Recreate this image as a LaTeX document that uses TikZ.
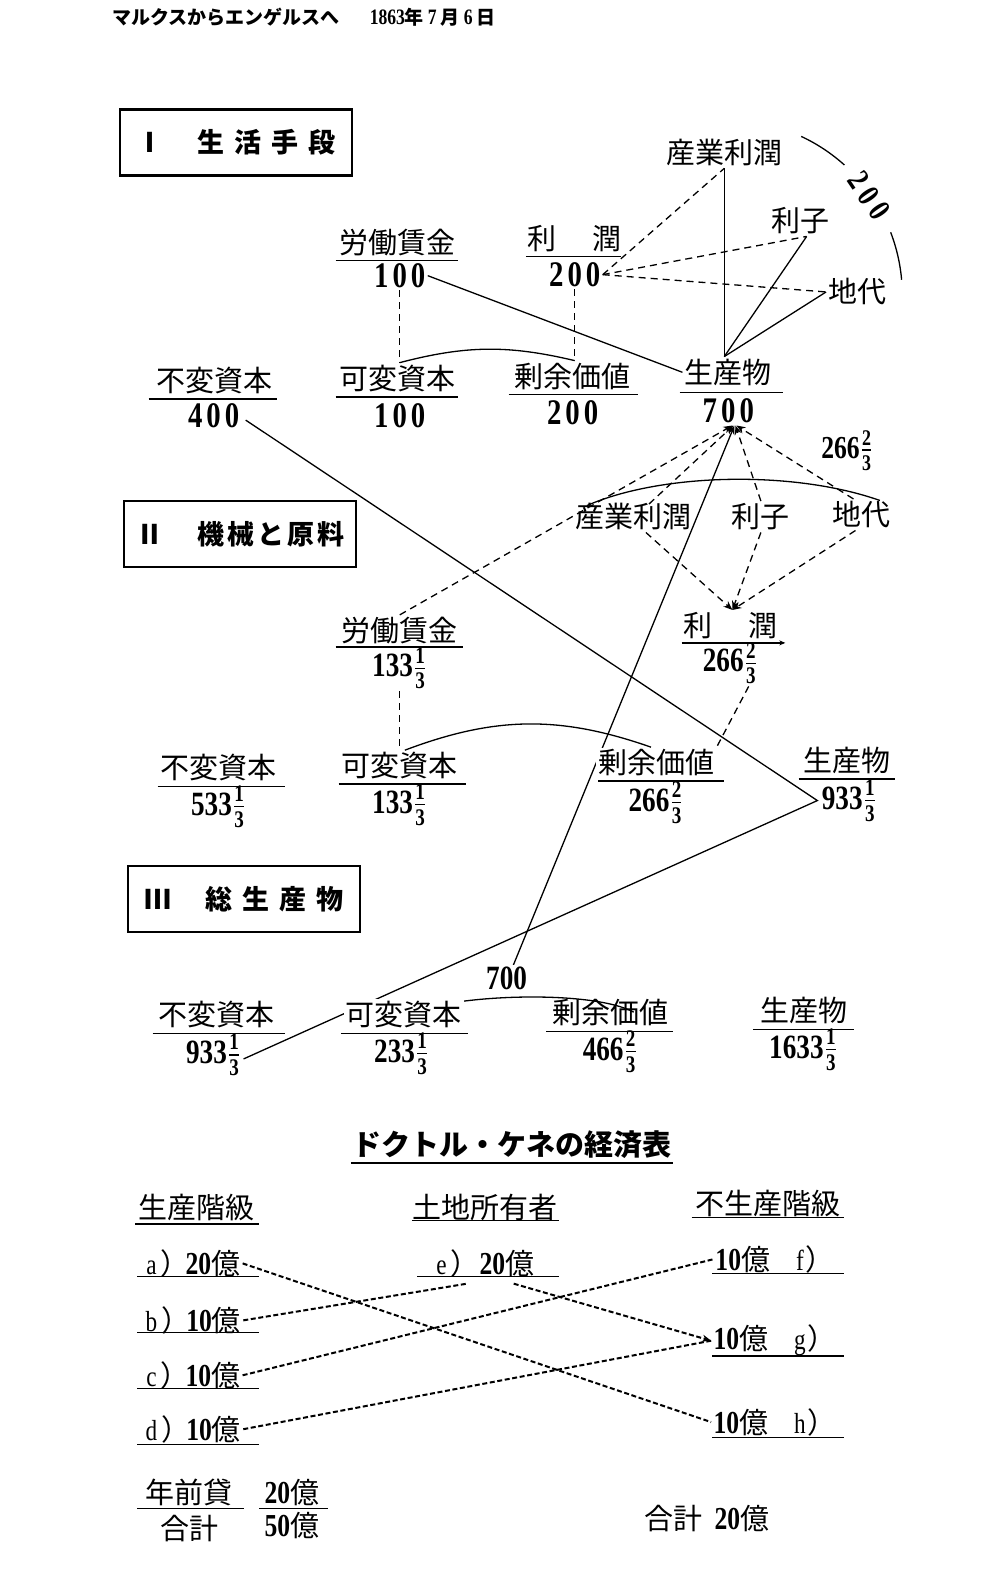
\documentclass[tikz,border=0pt]{standalone}
\usepackage{fontspec}
\usepackage{amsmath}
\setmainfont{Liberation Serif}
\newfontfamily\cjk{Noto Sans CJK JP}
\newfontfamily\nf[FakeStretch=0.8]{Liberation Serif}
\usetikzlibrary{arrows.meta,calc,backgrounds}
\newcommand\fr[2]{\ensuremath{\frac{\text{#1}}{\text{#2}}}}
\newcommand\dg[1]{{\nf\bfseries\fontsize{16}{16}\selectfont #1}}
\tikzset{
  lab/.style={font=\cjk\fontsize{14.5}{16}\selectfont, inner sep=1pt},
  numa/.style={font=\nf\bfseries\fontsize{18}{18}\selectfont, inner sep=1pt},
  numb/.style={font=\nf\bfseries\fontsize{17}{17}\selectfont, inner sep=1pt},
  ul/.style={line width=0.8pt},
  sol/.style={line width=0.65pt},
  dsh/.style={line width=0.65pt, dash pattern=on 3.5pt off 2.5pt},
  dq/.style={line width=1pt, dash pattern=on 2.5pt off 1.3pt},
  arr/.style={-{Stealth[length=4.5pt,width=3.5pt]}},
  secbox/.style={draw, line width=1.1pt, minimum width=116pt, minimum height=33pt, font=\cjk\bfseries\fontsize{13.5}{14}\selectfont},
  wf/.style={fill=white},
}
\begin{document}
\begin{tikzpicture}[x={(0.5085pt,0)}, y={(0,-0.5085pt)}]
\useasboundingbox (0,0) rectangle (983,1568);

% header
\node[anchor=west, inner sep=0, font=\cjk\bfseries\fontsize{9.5}{10}\selectfont] (hdr) at (110,17) {マルクスからエンゲルスへ\hspace{15pt}{\nf\fontsize{11}{11}\selectfont 1863}年\hspace{2pt}{\nf\fontsize{11}{11}\selectfont 7}\hspace{2pt}月\hspace{2pt}{\nf\fontsize{11}{11}\selectfont 6}\hspace{2pt}日};

% ---------- Section I ----------
\node[secbox] (bI) at (232,140) {Ⅰ\hspace{17pt}生\hspace{5pt}活\hspace{5pt}手\hspace{5pt}段};
\node[lab] (sgyI) at (712,150) {産業利潤};
\node[lab] (rsI) at (787,217) {利子};
\node[lab] (cdI) at (843,287) {地代};
\node[font=\nf\bfseries\fontsize{16}{16}\selectfont, rotate=-56, inner sep=0pt] (a200) at ($(715,290)+(-35:170)$) {2\kern3pt 0\kern3pt 0};
\node[lab] (rjI) at (565,235) {利\hspace{18pt}潤};
\node[numa] (rjIn) at (565,270) {2\kern2pt0\kern2pt0};
\node[lab] (rcI) at (391,238) {労働賃金};
\node[numa] (rcIn) at (393,271) {1\kern2pt0\kern2pt0};
\node[lab] (fhI) at (211,374) {不変資本};
\node[numa] (fhIn) at (210,409) {4\kern2pt0\kern2pt0};
\node[lab] (khI) at (391,372) {可変資本};
\node[numa] (khIn) at (393,409) {1\kern2pt0\kern2pt0};
\node[lab] (jyI) at (563,370) {剰余価値};
\node[numa] (jyIn) at (563,406) {2\kern2pt0\kern2pt0};
\node[lab] (ssI) at (716,366) {生産物};
\node[numa] (ssIn) at (716,404) {7\kern2pt0\kern2pt0};

% ---------- Section II ----------
\node[secbox] (bII) at (236,525) {Ⅱ\hspace{17pt}機\kern1.5pt 械\kern1.5pt と\kern1.5pt 原\kern1.5pt 料};
\node[font=\nf\bfseries\fontsize{16}{16}\selectfont, inner sep=1pt] (n266) at (833,443) {266\fr{2}{3}};
\node[lab] (sgyII) at (623,508) {産業利潤};
\node[lab] (rsII) at (748,508) {利子};
\node[lab] (cdII) at (847,506) {地代};
\node[lab] (rcII) at (393,620) {労働賃金};
\node[numb] (rcIIn) at (393,657) {133\fr{1}{3}};
\node[lab] (rjII) at (718,615) {利\hspace{18pt}潤};
\node[numb] (rjIIn) at (718,652) {266\fr{2}{3}};
\node[lab] (fhII) at (215,755) {不変資本};
\node[numb] (fhIIn) at (215,793) {533\fr{1}{3}};
\node[lab] (khII) at (393,753) {可変資本};
\node[numb] (khIIn) at (393,791) {133\fr{1}{3}};
\node[lab, wf] (jyII) at (645,750) {剰余価値};
\node[numb] (jyIIn) at (645,789) {266\fr{2}{3}};
\node[lab] (ssII) at (833,748) {生産物};
\node[numb] (ssIIn) at (835,787) {933\fr{1}{3}};

% ---------- Section III ----------
\node[secbox] (bIII) at (240,884) {Ⅲ\hspace{17pt}総\hspace{5pt}生\hspace{5pt}産\hspace{5pt}物};
\node[lab] (fhIII) at (213,997) {不変資本};
\node[numb] (fhIIIn) at (210,1037) {933\fr{1}{3}};
\node[lab, wf] (khIII) at (397,997) {可変資本};
\node[numb] (khIIIn) at (395,1036) {233\fr{1}{3}};
\node[lab] (jyIII) at (600,995) {剰余価値};
\node[numb] (jyIIIn) at (600,1034) {466\fr{2}{3}};
\node[lab] (ssIII) at (790,993) {生産物};
\node[numb] (ssIIIn) at (790,1032) {1633\fr{1}{3}};
\node[numb, wf] (t700) at (498,962) {700};

% ---------- Tableau ----------
\node[font=\cjk\bfseries\fontsize{14.5}{16}\selectfont, inner sep=1pt] (ttl) at (503,1125) {ドクトル・ケネの経済表};
\node[lab] (hsk) at (193,1187) {生産階級};
\node[lab] (htd) at (477,1187) {土地所有者};
\node[lab] (hfs) at (755,1183) {不生産階級};
\node[lab] (ta) at (190,1242) {{\nf a}\kern2pt）\kern-2pt\dg{20}億};
\node[lab] (tb) at (190,1298) {{\nf b}\kern2pt）\kern-2pt\dg{10}億};
\node[lab] (tc) at (190,1352) {{\nf c}\kern2pt）\kern-2pt\dg{10}億};
\node[lab] (td) at (190,1405) {{\nf d}\kern2pt）\kern-2pt\dg{10}億};
\node[lab] (te) at (477,1242) {{\nf e}\kern2pt）\dg{20}億};
\node[lab] (tf) at (762,1238) {\dg{10}億\hspace{13pt}{\nf f}\kern1pt）};
\node[lab] (tg) at (762,1318) {\dg{10}億\hspace{13pt}{\nf g}\kern1pt）};
\node[lab] (th) at (762,1398) {\dg{10}億\hspace{13pt}{\nf h}\kern1pt）};
\node[lab] (nzk) at (186,1467) {年前貸};
\node[lab] (gk1) at (186,1503) {合計};
\node[lab] (n20) at (287,1467) {\dg{20}億};
\node[lab] (n50) at (287,1500) {\dg{50}億};
\node[lab] (gk2) at (695,1493) {合計\hspace{6pt}\dg{20}億};

\begin{pgfonlayer}{background}
\fill[white] (0,0) rectangle (983,1568);
% underlines
\draw[ul] (517,252) -- (610,252);
\draw[ul] (330,256) -- (450,256);
\draw[ul] (146,392) -- (272,392);
\draw[ul] (330,390) -- (450,390);
\draw[ul] (500,388) -- (627,388);
\draw[ul] (668,386) -- (770,386);
\draw[ul] (330,636) -- (455,636);
\draw[ul, -{Stealth[length=3pt,width=2.5pt]}] (670,632) -- (772,632);
\draw[ul] (155,773) -- (280,773);
\draw[ul] (333,771) -- (458,771);
\draw[ul] (588,768) -- (712,768);
\draw[ul] (785,766) -- (880,766);
\draw[ul] (150,1016) -- (280,1016);
\draw[ul] (335,1016) -- (460,1016);
\draw[ul] (537,1014) -- (662,1014);
\draw[ul] (740,1012) -- (840,1012);
\draw[line width=1pt] (345,1143) -- (662,1143);
\draw[ul] (133,1203) -- (255,1203);
\draw[ul] (405,1200) -- (550,1200);
\draw[ul] (680,1197) -- (830,1197);
\draw[ul] (135,1255) -- (255,1255);
\draw[ul] (135,1310) -- (255,1310);
\draw[ul] (135,1365) -- (255,1365);
\draw[ul] (135,1420) -- (255,1420);
\draw[ul] (410,1255) -- (550,1255);
\draw[ul] (700,1252) -- (830,1252);
\draw[ul] (700,1333) -- (830,1333);
\draw[ul] (700,1413) -- (830,1413);
\draw[ul] (135,1483) -- (240,1483);
\draw[ul] (255,1483) -- (322,1483);

% Section I connectors
\draw[sol] (715,290) ++(-65:172) arc[start angle=-65, end angle=-48, radius=172];
\draw[sol] (715,290) ++(-21:172) arc[start angle=-21, end angle=-5, radius=172];
\draw[sol] (rcIn.east) -- (ssI.west);
\draw[dsh] (rcIn.south) -- (rcIn.south |- khI.north);
\draw[dsh] (rjIn.south) -- (rjIn.south |- jyI.north);
\draw[sol] (rcIn.south |- khI.north) to[bend left=14] (rjIn.south |- jyI.north);
\draw[dsh] (rjIn.east) -- (sgyI.south);
\draw[dsh] (rjIn.east) -- ($(rsI.south)+(6,0)$);
\draw[dsh] (rjIn.east) -- (cdI.west);
\draw[sol] (sgyI.south |- ssI.north) -- (sgyI.south);
\draw[sol] (sgyI.south |- ssI.north) -- ($(rsI.south)+(6,0)$);
\draw[sol] (sgyI.south |- ssI.north) -- (cdI.west);

% Section II connectors
\draw[sol] (577,497) .. controls (650,465) and (780,462) .. (865,492);
\draw[dsh, arr] (rcII.north) -- ($(ssIn.south)+(4,0)$);
\draw[dsh, arr] ($(sgyII.north)+(15,3)$) -- ($(ssIn.south)+(5,0)$);
\draw[dsh, arr] (rsII.north) -- ($(ssIn.south)+(7,0)$);
\draw[dsh, arr] ($(cdII.north)+(-8,0)$) -- ($(ssIn.south)+(8,0)$);
\draw[dsh, arr] ($(sgyII.south)+(12,0)$) -- ($(rjII.north)+(2,0)$);
\draw[dsh, arr] (rsII.south) -- ($(rjII.north)+(2,0)$);
\draw[dsh, arr] ($(cdII.south)+(-6,0)$) -- ($(rjII.north)+(2,0)$);
\draw[dsh] ($(rjIIn.south)+(18,0)$) -- ($(jyII.north east)+(-2,4)$);
\draw[dsh] (rcIIn.south) -- (rcIIn.south |- khII.north);
\draw[sol] ($(khII.north)+(5,0)$) to[bend left=20] ($(jyII.north)+(-5,0)$);
\draw[sol] ($(fhIn.east)+(4,4)$) -- ($(ssIIn.west)+(-2,0)$) -- ($(fhIIIn.east)+(0,4)$);

% Section III connectors
\draw[sol] (403,997) .. controls (440,978) and (580,972) .. (623,995);
\draw[sol, arr] ($(t700.north)+(6,2)$) -- ($(ssIn.south)+(6,0)$);

% Tableau connectors
\draw[dq] (ta.east) -- (th.west);
\draw[dq] (tb.east) -- ($(te.south)+(-18,4)$);
\draw[dq] (tc.east) -- (tf.west);
\draw[dq] (td.east) -- (tg.west);
\draw[dq, arr] ($(te.south)+(28,4)$) -- (tg.west);
\end{pgfonlayer}
\end{tikzpicture}
\end{document}
